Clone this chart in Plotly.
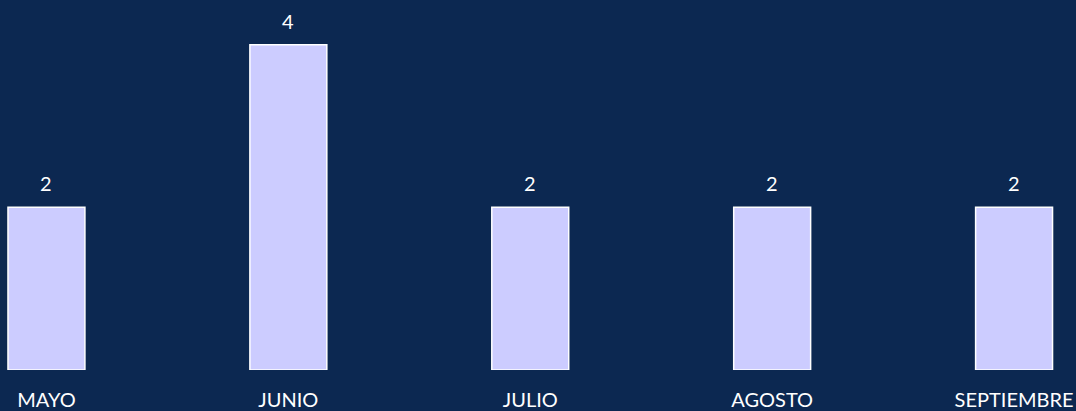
import plotly.graph_objects as go

months = ["MAYO", "JUNIO", "JULIO", "AGOSTO", "SEPTIEMBRE"]
counts = [2, 4, 2, 2, 2]

BG = "#0c2851"
BAR = "#ccccff"

fig = go.Figure()
fig.add_trace(go.Bar(
    x=months,
    y=counts,
    width=0.318,
    marker=dict(color=BAR, line=dict(color="#ffffff", width=1.5)),
    cliponaxis=False,
))

for m, v in zip(months, counts):
    fig.add_annotation(
        x=m, y=v, text=str(v), showarrow=False,
        yanchor="bottom", yshift=10,
        font=dict(color="#ffffff", size=20, family="Lato"),
    )

fig.update_layout(
    width=1076, height=411,
    margin=dict(l=0, r=0, t=0, b=39),
    paper_bgcolor=BG,
    plot_bgcolor=BG,
    showlegend=False,
    font=dict(family="Lato", color="#ffffff", size=20),
    xaxis=dict(
        type="category",
        range=[-0.192, 4.256],
        showgrid=False, zeroline=False, showline=False,
        ticks="outside", ticklen=12, tickcolor=BG,
        tickfont=dict(size=20, color="#ffffff", family="Lato"),
    ),
    yaxis=dict(
        range=[0, 4.55],
        visible=False,
        showgrid=False, zeroline=False,
    ),
)

fig.write_html("out.html", config={"displayModeBar": False},
               post_script="document.body.style.margin='0';")
